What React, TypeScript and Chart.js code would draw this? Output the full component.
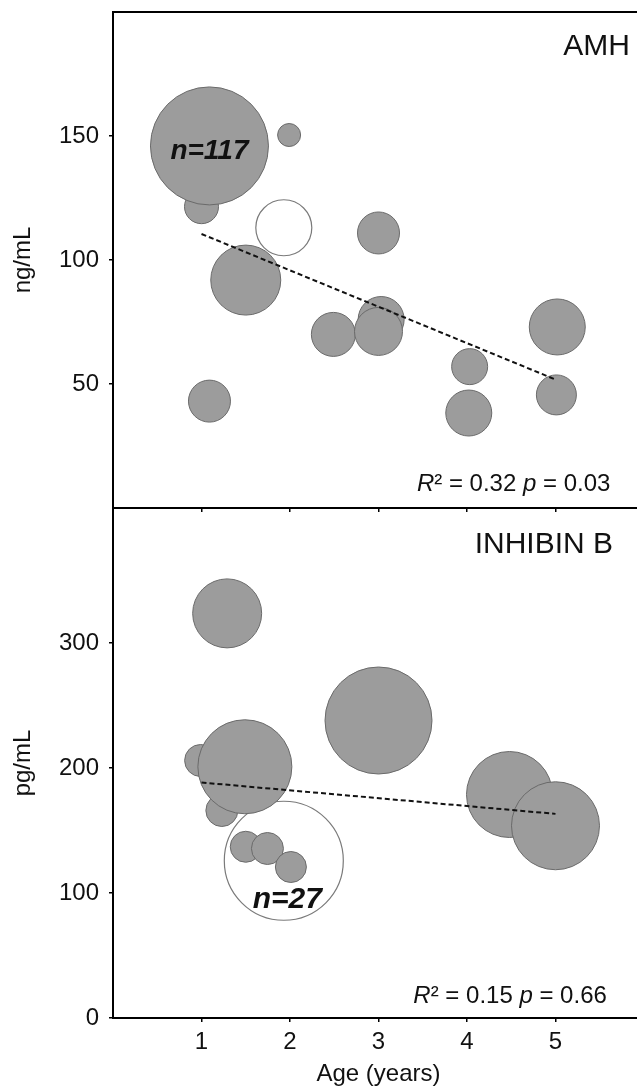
import React, { useEffect, useRef } from 'react';
import { Chart, registerables } from 'chart.js';

Chart.register(...registerables);

const FONT = "'Liberation Sans', Arial, Helvetica, sans-serif";

// shared x axis
const xTicks = [1, 2, 3, 4, 5];

// ---- AMH panel ----
const amhAge = [1.0, 1.09, 1.99, 3.0, 2.49, 3.03, 3.0, 1.5, 4.03, 4.02, 5.02, 5.01, 1.09];
const amhValue = [121.5, 146, 150.4, 110.9, 70, 76, 71.2, 91.9, 57, 38.3, 73, 45.6, 43.1];
const amhN = [17, 59, 11.5, 21, 22, 23, 24, 35, 18, 23, 28, 20, 21];
const amhOpenAge = [1.93];
const amhOpenValue = [113];
const amhOpenN = [28];
const amhTrendAge = [1, 5];
const amhTrendValue = [110.5, 51.8];
const amhTicks = [50, 100, 150];

// ---- Inhibin B panel ----
const inhAge = [0.99, 1.23, 1.49, 1.29, 3.0, 4.48, 5.0, 1.5, 1.745, 2.01];
const inhValue = [206, 166, 201, 323.7, 238, 178.8, 153.8, 137, 135.6, 120.8];
const inhN = [16, 16, 47, 34.5, 53.5, 43, 44, 15.5, 16, 15.5];
const inhOpenAge = [1.93];
const inhOpenValue = [125.8];
const inhOpenN = [59.5];
const inhTrendAge = [1, 5];
const inhTrendValue = [188.4, 163.3];
const inhTicks = [0, 100, 200, 300];

type Seg = { text: string; italic?: boolean };
type Note = { x: number; y: number; align: 'left' | 'center' | 'right'; size: number; bold?: boolean; segs: Seg[] };

const amhNotes: Note[] = [
  { x: 5.84, y: 186, align: 'right', size: 30, segs: [{ text: 'AMH' }] },
  { x: 1.09, y: 144, align: 'center', size: 28, bold: true, segs: [{ text: 'n=117', italic: true }] },
  {
    x: 5.62, y: 9.7, align: 'right', size: 24,
    segs: [{ text: 'R', italic: true }, { text: '\u00B2 = 0.32 ' }, { text: 'p', italic: true }, { text: ' = 0.03' }],
  },
];

const inhNotes: Note[] = [
  { x: 5.65, y: 379, align: 'right', size: 30, segs: [{ text: 'INHIBIN B' }] },
  { x: 1.97, y: 95, align: 'center', size: 30, bold: true, segs: [{ text: 'n=27', italic: true }] },
  {
    x: 5.58, y: 17, align: 'right', size: 24,
    segs: [{ text: 'R', italic: true }, { text: '\u00B2 = 0.15 ' }, { text: 'p', italic: true }, { text: ' = 0.66' }],
  },
];

const segFont = (n: Note, s: Seg) =>
  `${s.italic ? 'italic ' : ''}${n.bold ? 'bold ' : ''}${n.size}px ${FONT}`;

const notesPlugin = (notes: Note[], topBorder: boolean) => ({
  id: 'notes',
  afterDatasetsDraw(chart: any) {
    const ctx = chart.ctx as CanvasRenderingContext2D;
    const xs = chart.scales.x;
    const ys = chart.scales.y;
    ctx.save();
    ctx.fillStyle = '#111';
    ctx.textBaseline = 'middle';
    ctx.textAlign = 'left';
    for (const n of notes) {
      const px = xs.getPixelForValue(n.x);
      const py = ys.getPixelForValue(n.y);
      let total = 0;
      for (const s of n.segs) {
        ctx.font = segFont(n, s);
        total += ctx.measureText(s.text).width;
      }
      let cx = n.align === 'right' ? px - total : n.align === 'center' ? px - total / 2 : px;
      for (const s of n.segs) {
        ctx.font = segFont(n, s);
        ctx.fillText(s.text, cx, py);
        cx += ctx.measureText(s.text).width;
      }
    }
    if (topBorder) {
      const a = chart.chartArea;
      ctx.strokeStyle = '#000';
      ctx.lineWidth = 2;
      ctx.beginPath();
      ctx.moveTo(a.left - 1, a.top);
      ctx.lineTo(a.right, a.top);
      ctx.stroke();
    }
    ctx.restore();
  },
});

const toPts = (xs: number[], ys: number[], rs?: number[]) =>
  xs.map((x, i) => (rs ? { x, y: ys[i], r: rs[i] } : { x, y: ys[i] }));

const FILL = '#9c9c9c';
const EDGE = '#6a6a6a';

const zeroPad = (s: any) => {
  s.paddingTop = 0;
  s.paddingBottom = 0;
  s.paddingLeft = 0;
  s.paddingRight = 0;
};

function buildConfig(o: {
  age: number[]; value: number[]; n: number[];
  openAge: number[]; openValue: number[]; openN: number[];
  trendAge: number[]; trendValue: number[];
  yMax: number; yTicks: number[]; yTitle: string;
  showXLabels: boolean; xAxisHeight: number; padTop: number;
  notes: Note[]; topBorder: boolean;
}): any {
  const axisFont = { family: FONT, size: 24 };
  return {
    type: 'bubble',
    data: {
      datasets: [
        {
          type: 'line',
          data: toPts(o.trendAge, o.trendValue),
          borderColor: '#111',
          borderWidth: 2,
          borderDash: [5, 3],
          pointRadius: 0,
          fill: false,
          order: 0,
        },
        {
          data: toPts(o.age, o.value, o.n),
          backgroundColor: FILL,
          borderColor: EDGE,
          borderWidth: 1,
          order: 1,
        },
        {
          data: toPts(o.openAge, o.openValue, o.openN),
          backgroundColor: 'rgba(255,255,255,0)',
          borderColor: '#7a7a7a',
          borderWidth: 1.2,
          order: 2,
        },
      ],
    },
    options: {
      responsive: false,
      animation: false,
      devicePixelRatio: 1,
      layout: { autoPadding: false, padding: { top: o.padTop, left: 0, right: 0, bottom: 0 } },
      plugins: { legend: { display: false }, tooltip: { enabled: false } },
      scales: {
        x: {
          type: 'linear',
          min: 0,
          max: 6,
          afterBuildTicks: (s: any) => { s.ticks = xTicks.map((v) => ({ value: v })); },
          afterFit: (s: any) => { s.height = o.xAxisHeight; zeroPad(s); },
          ticks: { display: o.showXLabels, font: axisFont, color: '#111', padding: 6, maxRotation: 0 },
          grid: { drawOnChartArea: false, drawTicks: true, tickLength: 4, color: '#000', lineWidth: 1.5 },
          border: { display: true, color: '#000', width: 2 },
          title: {
            display: o.showXLabels,
            text: 'Age (years)',
            font: { family: FONT, size: 24, lineHeight: 1 },
            color: '#111',
            padding: 0,
          },
        },
        y: {
          type: 'linear',
          min: 0,
          max: o.yMax,
          afterBuildTicks: (s: any) => { s.ticks = o.yTicks.map((v) => ({ value: v })); },
          afterFit: (s: any) => { s.width = 113; zeroPad(s); },
          ticks: { font: axisFont, color: '#111', padding: 10 },
          grid: { drawOnChartArea: false, drawTicks: true, tickLength: 4, color: '#000', lineWidth: 1.5 },
          border: { display: true, color: '#000', width: 2 },
          title: {
            display: true,
            text: o.yTitle,
            font: { family: FONT, size: 24, lineHeight: 1 },
            color: '#111',
            padding: { top: 11, bottom: 0 },
          },
        },
      },
    },
    plugins: [notesPlugin(o.notes, o.topBorder)],
  };
}

export default function App() {
  const topRef = useRef<HTMLCanvasElement | null>(null);
  const botRef = useRef<HTMLCanvasElement | null>(null);

  useEffect(() => {
    const top = new Chart(
      topRef.current as HTMLCanvasElement,
      buildConfig({
        age: amhAge, value: amhValue, n: amhN,
        openAge: amhOpenAge, openValue: amhOpenValue, openN: amhOpenN,
        trendAge: amhTrendAge, trendValue: amhTrendValue,
        yMax: 200, yTicks: amhTicks, yTitle: 'ng/mL',
        showXLabels: false, xAxisHeight: 6, padTop: 12,
        notes: amhNotes, topBorder: true,
      })
    );
    const bot = new Chart(
      botRef.current as HTMLCanvasElement,
      buildConfig({
        age: inhAge, value: inhValue, n: inhN,
        openAge: inhOpenAge, openValue: inhOpenValue, openN: inhOpenN,
        trendAge: inhTrendAge, trendValue: inhTrendValue,
        yMax: 408, yTicks: inhTicks, yTitle: 'pg/mL',
        showXLabels: true, xAxisHeight: 68, padTop: 0,
        notes: inhNotes, topBorder: false,
      })
    );
    return () => {
      top.destroy();
      bot.destroy();
    };
  }, []);

  return (
    <div
      style={{
        position: 'absolute',
        left: 0,
        top: 0,
        width: 637,
        height: 1086,
        overflow: 'hidden',
        background: '#fff',
      }}
    >
      <canvas ref={topRef} width={644} height={514} style={{ position: 'absolute', left: 0, top: 0 }} />
      <canvas ref={botRef} width={644} height={578} style={{ position: 'absolute', left: 0, top: 508 }} />
    </div>
  );
}
